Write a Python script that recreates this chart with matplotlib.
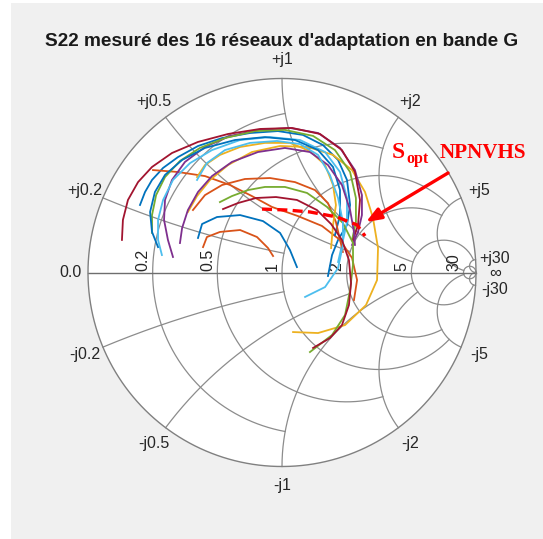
import numpy as np
import matplotlib
matplotlib.use("Agg")
import matplotlib.pyplot as plt
from matplotlib.patches import Circle, Rectangle

plt.rcParams['font.family'] = ['Liberation Sans', 'DejaVu Sans']

# ---------------- data (reflection coefficient, real / imag) ----------------
colors = ['#0072BD', '#D95319', '#EDB120', '#7E2F8E', '#77AC30', '#4DBEEE', '#A2142F']

s22_re = [
    [-0.732, -0.706, -0.670, -0.613, -0.536, -0.433, -0.309, -0.165, -0.021, 0.108, 0.211, 0.289, 0.335, 0.351, 0.335, 0.289, 0.258, 0.237],
    [-0.665, -0.536, -0.397, -0.268, -0.155, -0.052, 0.082, 0.206, 0.299, 0.361, 0.387, 0.371],
    [-0.485, -0.438, -0.371, -0.278, -0.155, -0.010, 0.134, 0.263, 0.361, 0.428, 0.469, 0.495, 0.490, 0.433, 0.325, 0.186, 0.057],
    [-0.562, -0.588, -0.608, -0.603, -0.567, -0.500, -0.397, -0.268, -0.113, 0.041, 0.186, 0.299, 0.376, 0.412, 0.412, 0.392, 0.361],
    [-0.670, -0.670, -0.649, -0.603, -0.526, -0.423, -0.294, -0.139, 0.015, 0.160, 0.273, 0.351, 0.381, 0.381, 0.361],
    [-0.619, -0.639, -0.639, -0.613, -0.562, -0.474, -0.361, -0.216, -0.062, 0.093, 0.222, 0.299, 0.335, 0.335, 0.309, 0.289],
    [-0.825, -0.820, -0.794, -0.742, -0.670, -0.567, -0.433, -0.278, -0.113, 0.052, 0.196, 0.309, 0.376, 0.402, 0.392, 0.366],
    [-0.639, -0.670, -0.680, -0.655, -0.603, -0.515, -0.397, -0.242, -0.088, 0.067, 0.186, 0.263, 0.299, 0.299, 0.273],
    [-0.459, -0.397, -0.309, -0.191, -0.062, 0.067, 0.170, 0.237, 0.278, 0.299, 0.314],
    [-0.438, -0.397, -0.320, -0.216, -0.088, 0.041, 0.144, 0.222, 0.263, 0.278, 0.263, 0.253],
    [-0.526, -0.515, -0.485, -0.433, -0.361, -0.258, -0.124, 0.015, 0.144, 0.237, 0.309, 0.351, 0.371, 0.376],
    [-0.320, -0.258, -0.175, -0.088, 0.015, 0.129, 0.232, 0.314, 0.366, 0.366, 0.351, 0.325, 0.258, 0.144],
    [-0.438, -0.387, -0.294, -0.165, -0.026, 0.093, 0.186, 0.247, 0.289, 0.314, 0.314, 0.289, 0.222, 0.119],
    [-0.304, -0.227, -0.134, -0.031, 0.077, 0.180, 0.253, 0.309, 0.345, 0.356, 0.345, 0.309, 0.247, 0.160],
    [-0.433, -0.412, -0.335, -0.216, -0.098, -0.010, 0.041, 0.077],
    [-0.407, -0.387, -0.320, -0.216, -0.129, -0.072, -0.046],
]
s22_im = [
    [0.348, 0.415, 0.477, 0.539, 0.595, 0.652, 0.693, 0.719, 0.729, 0.709, 0.657, 0.580, 0.477, 0.348, 0.245, 0.168, 0.090, -0.018],
    [0.528, 0.518, 0.497, 0.451, 0.394, 0.338, 0.291, 0.240, 0.168, 0.075, -0.039, -0.142],
    [0.312, 0.394, 0.477, 0.554, 0.621, 0.652, 0.647, 0.606, 0.528, 0.415, 0.281, 0.126, -0.039, -0.168, -0.271, -0.312, -0.307],
    [0.080, 0.168, 0.271, 0.374, 0.477, 0.570, 0.647, 0.704, 0.735, 0.745, 0.719, 0.642, 0.528, 0.399, 0.296, 0.209, 0.142],
    [0.204, 0.296, 0.399, 0.492, 0.575, 0.642, 0.693, 0.729, 0.735, 0.704, 0.631, 0.518, 0.384, 0.260, 0.168],
    [0.090, 0.168, 0.271, 0.374, 0.477, 0.564, 0.631, 0.683, 0.698, 0.683, 0.621, 0.518, 0.384, 0.260, 0.142, 0.054],
    [0.168, 0.271, 0.374, 0.466, 0.544, 0.616, 0.673, 0.714, 0.740, 0.745, 0.714, 0.631, 0.518, 0.374, 0.245, 0.168],
    [0.131, 0.209, 0.312, 0.415, 0.503, 0.580, 0.642, 0.683, 0.698, 0.683, 0.631, 0.544, 0.425, 0.296, 0.193],
    [0.322, 0.399, 0.451, 0.482, 0.487, 0.466, 0.425, 0.358, 0.260, 0.168, 0.106],
    [0.492, 0.554, 0.606, 0.647, 0.668, 0.668, 0.626, 0.554, 0.451, 0.348, 0.245, 0.126],
    [0.152, 0.229, 0.322, 0.415, 0.497, 0.570, 0.621, 0.642, 0.621, 0.554, 0.451, 0.322, 0.209, 0.142],
    [0.363, 0.394, 0.425, 0.441, 0.441, 0.410, 0.338, 0.255, 0.152, 0.039, -0.090, -0.219, -0.322, -0.410],
    [0.477, 0.564, 0.631, 0.668, 0.678, 0.662, 0.606, 0.503, 0.384, 0.260, 0.142, 0.023, -0.075, -0.126],
    [0.327, 0.358, 0.384, 0.389, 0.374, 0.322, 0.250, 0.168, 0.064, -0.054, -0.168, -0.271, -0.338, -0.389],
    [0.178, 0.250, 0.286, 0.296, 0.265, 0.204, 0.116, 0.028],
    [0.131, 0.183, 0.209, 0.219, 0.183, 0.126, 0.085],
]

sopt_re = [-0.103, 0.026, 0.144, 0.284, 0.387, 0.428]
sopt_im = [0.327, 0.322, 0.312, 0.286, 0.245, 0.188]

grid_vals = [0.2, 0.5, 1, 2, 5, 30]
grid_lims = [1, 2, 5, 5, 30, np.inf]
real_labels = ['0.2', '0.5', '1', '2', '5', '30']
imag_labels = ['0.2', '0.5', '1', '2', '5', '30']

title = "S22 mesuré des 16 réseaux d'adaptation en bande G"

# ---------------- figure ----------------
W, H = 543, 539
fig = plt.figure(figsize=(W / 100, H / 100), dpi=100, facecolor='#f0f0f0')
fig.patches.append(Rectangle((0, 0), 11 / W, 1, transform=fig.transFigure,
                             facecolor='white', edgecolor='none', zorder=-1))
fig.patches.append(Rectangle((0, 1 - 3 / H), 1, 3 / H, transform=fig.transFigure,
                             facecolor='white', edgecolor='none', zorder=-1))

R = 194.0
cx, cy = 282.0, 272.5
lim = 1.25
side = 2 * lim * R
ax = fig.add_axes([(cx - side / 2) / W, (H - cy - side / 2) / H, side / W, side / H])
ax.set_xlim(-lim, lim)
ax.set_ylim(-lim, lim)
ax.set_aspect('equal')
ax.axis('off')

ax.add_patch(Circle((0, 0), 1, facecolor='white', edgecolor='none', zorder=0))

gc = '#8c8c8c'
def gam(z):
    return (z - 1) / (z + 1)

for v, L in zip(grid_vals, grid_lims):
    tmax = np.arctan(L) if np.isfinite(L) else np.pi / 2 - 1e-4
    t = np.linspace(-tmax, tmax, 600)
    g = gam(v + 1j * np.tan(t))
    ax.plot(g.real, g.imag, color=gc, lw=0.9, zorder=1)
    t2 = np.linspace(0, tmax, 600)
    for s in (1, -1):
        g = gam(np.tan(t2) + 1j * s * v)
        ax.plot(g.real, g.imag, color=gc, lw=0.9, zorder=1)

ax.plot([-1, 1], [0, 0], color='#6e6e6e', lw=1.0, zorder=1)
th = np.linspace(0, 2 * np.pi, 800)
ax.plot(np.cos(th), np.sin(th), color='#808080', lw=1.0, zorder=1)

fs = 11.5
tc = '#262626'
for v, lab in zip(grid_vals, real_labels):
    x0 = gam(v)
    ax.text(x0.real - 0.012, 0.01, lab, rotation=90, ha='right', va='bottom',
            fontsize=fs, color=tc, zorder=3)
ax.text(-1.035, 0.0, '0.0', ha='right', va='center', fontsize=fs, color=tc)

for v, lab in zip(grid_vals, imag_labels):
    for s, pre in ((1, '+j'), (-1, '-j')):
        g = gam(1j * s * v)
        ang = np.angle(g)
        rr = 1.10
        dy = 0.0
        if v == 30 and s < 0:
            dy = -0.015
        ax.text(rr * np.cos(ang), rr * np.sin(ang) + dy, pre + lab, ha='center', va='center',
                fontsize=fs, color=tc)
ax.text(1.10, -0.005, '∞', ha='center', va='center', fontsize=12, color=tc)

for i, (xr, yi) in enumerate(zip(s22_re, s22_im)):
    ax.plot(xr, yi, color=colors[i % len(colors)], lw=1.3, zorder=4)

ax.plot(sopt_re, sopt_im, color='#ff0000', lw=2.4, ls=(0, (3, 1.6)), zorder=5)
ax.annotate('', xy=(0.433, 0.260), xytext=(0.856, 0.513),
            arrowprops=dict(arrowstyle='-|>,head_length=0.9,head_width=0.35',
                            color='#ff0000', lw=2.4, shrinkA=0, shrinkB=0), zorder=6)
ax.text(0.565, 0.590, 'S', color='#ff0000', fontsize=17, fontweight='bold',
        family='Liberation Serif', ha='left', va='baseline')
ax.text(0.640, 0.565, 'opt', color='#ff0000', fontsize=11.5, fontweight='bold',
        family='Liberation Serif', ha='left', va='baseline')
ax.text(0.812, 0.590, 'NPNVHS', color='#ff0000', fontsize=15.2, fontweight='bold',
        family='Liberation Serif', ha='left', va='baseline')

fig.text(cx / W, 1 - 41 / H, title, ha='center', va='center', fontsize=13.7,
         fontweight='bold', color='#1a1a1a')

fig.savefig('out.png', dpi=100, facecolor=fig.get_facecolor())
